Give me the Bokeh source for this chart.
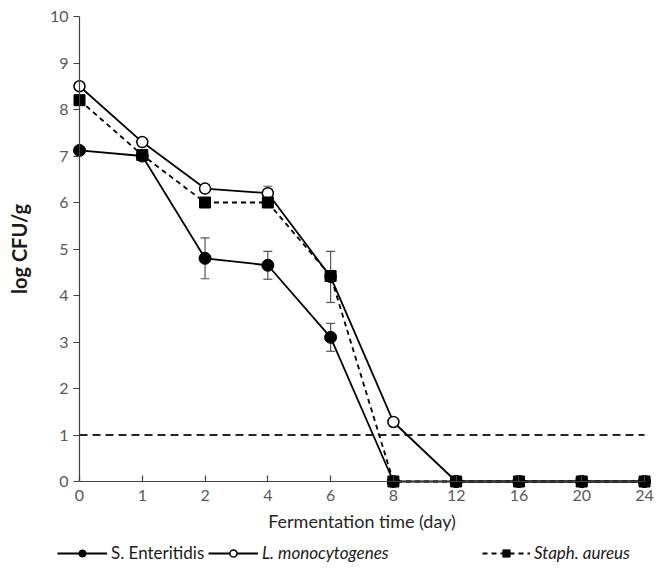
from bokeh.plotting import figure
from bokeh.models import (Range1d, FixedTicker, Legend, LegendItem, ColumnDataSource,
                          Whisker, TeeHead)
from bokeh.embed import file_html
from bokeh.resources import INLINE

# ---- data ----
days = ["0", "1", "2", "4", "6", "8", "12", "16", "20", "24"]
s_enteritidis = [7.12, 7.00, 4.80, 4.65, 3.10, 0, 0, 0, 0, 0]
s_enteritidis_err = [0, 0, 0.44, 0.30, 0.30, 0, 0, 0, 0, 0]
l_monocytogenes = [8.50, 7.30, 6.30, 6.20, 4.40, 1.28, 0, 0, 0, 0]
l_monocytogenes_err = [0, 0, 0, 0.15, 0.55, 0, 0, 0, 0, 0]
staph_aureus = [8.20, 7.02, 6.00, 6.00, 4.42, 0, 0, 0, 0, 0]
detection_limit = 1.0
y_ticks = list(range(0, 11))
y_max = 10

FONT = "Lato"
xs = list(range(len(days)))

# page geometry (frame covers the whole plot; axes are placed at fixed data locations)
W, H = 654, 571
AX_LEFT, AX_RIGHT, AX_TOP, AX_BOTTOM = 79, 644, 16, 481
kx = (AX_RIGHT - AX_LEFT) / (len(days) - 1)
ky = (AX_BOTTOM - AX_TOP) / y_max
x_range = Range1d(-AX_LEFT / kx, (len(days) - 1) + (W - AX_RIGHT) / kx)
y_range = Range1d(-(H - AX_BOTTOM) / ky, y_max + AX_TOP / ky)

p = figure(width=W, height=H, output_backend="svg", toolbar_location=None,
           x_range=x_range, y_range=y_range,
           min_border_left=0, min_border_top=0, min_border_right=0, min_border_bottom=0)
p.outline_line_color = None
p.grid.grid_line_color = None
p.background_fill_color = "white"

# axes
xa, ya = p.xaxis[0], p.yaxis[0]
xa.fixed_location = 0
ya.fixed_location = 0
xa.bounds = (0, len(days) - 1)
ya.bounds = (0, y_max)
xa.ticker = FixedTicker(ticks=xs)
xa.major_label_overrides = {i: d for i, d in enumerate(days)}
ya.ticker = FixedTicker(ticks=y_ticks)
for ax in (xa, ya):
    ax.axis_line_color = "#404040"
    ax.axis_line_width = 1.2
    ax.major_tick_line_color = "#404040"
    ax.major_tick_line_width = 1.2
    ax.minor_tick_line_color = None
    ax.major_label_text_font = FONT
    ax.major_label_text_font_size = "16px"
    ax.major_label_text_color = "#595959"
    ax.axis_label_text_font = FONT
    ax.axis_label_text_font_style = "normal"
xa.major_tick_in = 6
xa.major_tick_out = 0
xa.major_label_standoff = 8
xa.axis_label = "Fermentation time (day)"
xa.axis_label_text_font_size = "18px"
xa.axis_label_text_color = "#262626"
xa.axis_label_standoff = 6
ya.major_tick_in = 0
ya.major_tick_out = 6
ya.major_label_standoff = 5
ya.axis_label = "log CFU/g"
ya.axis_label_text_font_size = "20px"
ya.axis_label_text_font_style = "bold"
ya.axis_label_text_color = "#1a1a1a"
ya.axis_label_standoff = 16

# detection limit
p.line([xs[0], xs[-1]], [detection_limit, detection_limit], line_color="#262626",
       line_width=2, line_dash="8 5")

def add_err(vals, errs):
    bx = [x for x, e in zip(xs, errs) if e > 0]
    up = [v + e for v, e in zip(vals, errs) if e > 0]
    lo = [v - e for v, e in zip(vals, errs) if e > 0]
    src = ColumnDataSource(dict(x=bx, upper=up, lower=lo))
    p.add_layout(Whisker(base="x", upper="upper", lower="lower", source=src,
                         line_color="#555555", line_width=1.2,
                         upper_head=TeeHead(size=9, line_color="#555555", line_width=1.2),
                         lower_head=TeeHead(size=9, line_color="#555555", line_width=1.2)))

add_err(s_enteritidis, s_enteritidis_err)
add_err(l_monocytogenes, l_monocytogenes_err)

lm_l = p.line(xs, l_monocytogenes, line_color="black", line_width=1.8)
lm_m = p.scatter(xs, l_monocytogenes, marker="circle", size=11, fill_color="white",
                 line_color="black", line_width=1.5)
se_l = p.line(xs, s_enteritidis, line_color="black", line_width=1.8)
se_m = p.scatter(xs, s_enteritidis, marker="circle", size=12, fill_color="black",
                 line_color="black")
sa_l = p.line(xs, staph_aureus, line_color="black", line_width=1.8, line_dash="5 4")
sa_m = p.scatter(xs, staph_aureus, marker="square", size=11, fill_color="black",
                 line_color="black")

def add_legend(label, rends, loc, style, gw):
    lg = Legend(items=[LegendItem(label=label, renderers=rends)], location=loc,
                orientation="horizontal", background_fill_alpha=0, border_line_alpha=0,
                padding=0, margin=0, glyph_width=gw, glyph_height=18, label_standoff=4,
                label_text_font=FONT, label_text_font_size="17px",
                label_text_color="#1a1a1a", label_text_font_style=style)
    p.add_layout(lg, "center")

add_legend("S. Enteritidis", [se_l, se_m], (57, 8), "normal", 50)
add_legend("L. monocytogenes", [lm_l, lm_m], (208, 8), "italic", 50)
add_legend("Staph. aureus", [sa_l, sa_m], (482, 8), "italic", 48)

open("out.html", "w").write(file_html(p, INLINE))
